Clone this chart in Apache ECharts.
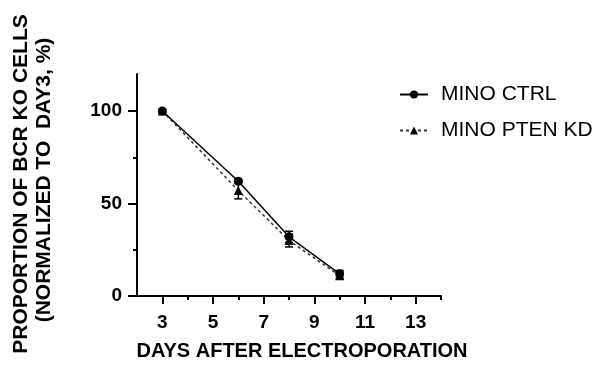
<!DOCTYPE html>
<html>
<head>
<meta charset="utf-8">
<script src="https://cdn.jsdelivr.net/npm/echarts@6/dist/echarts.min.js"></script>
<style>html,body{margin:0;padding:0;background:#fff;}#c{width:600px;height:370px;}</style>
</head>
<body>
<div id="c"></div>
<script>
var days = [3, 6, 8, 10];
var ctrlMean = [100, 62, 32, 12];
var ctrlErr = [0.8, 1.2, 3, 1.8];
var ptenMean = [100, 57, 30, 11];
var ptenErr = [0.8, 4.5, 3.5, 1.8];
var xMajorTicks = [3, 5, 7, 9, 11, 13];
var xMinorTicks = [4, 6, 8, 10, 12, 14];
var yMajorTicks = [0, 50, 100];
var yMinorTicks = [25, 75];
var seriesNames = ['MINO CTRL', 'MINO PTEN KD'];

var FONT = '"Liberation Sans", Arial, Helvetica, sans-serif';
var chart = echarts.init(document.getElementById('c'));

function pairs(xs, ys) { return xs.map(function (x, i) { return [x, ys[i]]; }); }
function errData(xs, m, e) { return xs.map(function (x, i) { return [x, m[i] - e[i], m[i] + e[i]]; }); }
function errRender(params, api) {
  var x = api.value(0);
  var lo = api.coord([x, api.value(1)]);
  var hi = api.coord([x, api.value(2)]);
  var w = 4;
  var st = { stroke: '#000', lineWidth: 1.5 };
  return { type: 'group', children: [
    { type: 'line', shape: { x1: lo[0], y1: lo[1], x2: hi[0], y2: hi[1] }, style: st },
    { type: 'line', shape: { x1: lo[0] - w, y1: lo[1], x2: lo[0] + w, y2: lo[1] }, style: st },
    { type: 'line', shape: { x1: hi[0] - w, y1: hi[1], x2: hi[0] + w, y2: hi[1] }, style: st }
  ]};
}

chart.setOption({
  animation: false,
  backgroundColor: '#fff',
  grid: { left: 137, right: 159, top: 74, bottom: 74 },
  xAxis: [
    { type: 'value', min: 2, max: 14, splitLine: { show: false },
      axisLine: { show: true, lineStyle: { color: '#000', width: 2 } },
      axisTick: { show: true, customValues: xMajorTicks, length: 8, lineStyle: { color: '#000', width: 2 } },
      axisLabel: { customValues: xMajorTicks, margin: 17, color: '#000', fontSize: 19, fontWeight: 'bold', fontFamily: FONT } },
    { type: 'value', min: 2, max: 14, position: 'bottom', splitLine: { show: false },
      axisLine: { show: false },
      axisTick: { show: true, customValues: xMinorTicks, length: 4, lineStyle: { color: '#000', width: 2 } },
      axisLabel: { show: false } }
  ],
  yAxis: [
    { type: 'value', min: 0, max: 120, splitLine: { show: false },
      axisLine: { show: true, lineStyle: { color: '#000', width: 2 } },
      axisTick: { show: true, customValues: yMajorTicks, length: 9, lineStyle: { color: '#000', width: 2 } },
      axisLabel: { customValues: yMajorTicks, margin: 15, color: '#000', fontSize: 19, fontWeight: 'bold', fontFamily: FONT } },
    { type: 'value', min: 0, max: 120, position: 'left', splitLine: { show: false },
      axisLine: { show: false },
      axisTick: { show: true, customValues: yMinorTicks, length: 4, lineStyle: { color: '#000', width: 2 } },
      axisLabel: { show: false } }
  ],
  legend: {
    orient: 'vertical', left: 394, top: 79, itemGap: 15, itemWidth: 28, itemHeight: 10,
    textStyle: { color: '#000', fontSize: 21, fontFamily: FONT, padding: [0, 0, 0, 8] },
    data: seriesNames
  },
  series: [
    { name: seriesNames[0], type: 'line', data: pairs(days, ctrlMean), symbol: 'circle', symbolSize: 9,
      itemStyle: { color: '#000' }, lineStyle: { color: '#000', width: 1.5 }, z: 3 },
    { name: seriesNames[1], type: 'line', data: pairs(days, ptenMean), symbol: 'triangle', symbolSize: 9,
      itemStyle: { color: '#000' }, lineStyle: { color: '#333', width: 1.5, type: [3, 3] }, z: 2 },
    { type: 'custom', data: errData(days, ctrlMean, ctrlErr), renderItem: errRender, z: 4 },
    { type: 'custom', data: errData(days, ptenMean, ptenErr), renderItem: errRender, z: 4 }
  ],
  graphic: [
    { type: 'text', x: 21, y: 184, rotation: Math.PI / 2,
      style: { text: 'PROPORTION OF BCR KO CELLS', fill: '#000', font: 'bold 21px ' + FONT, align: 'center', verticalAlign: 'middle' } },
    { type: 'text', x: 44, y: 180, rotation: Math.PI / 2,
      style: { text: '(NORMALIZED TO  DAY3, %)', fill: '#000', font: 'bold 21px ' + FONT, align: 'center', verticalAlign: 'middle' } },
    { type: 'text', x: 302, y: 351,
      style: { text: 'DAYS AFTER ELECTROPORATION', fill: '#000', font: 'bold 20px ' + FONT, align: 'center', verticalAlign: 'middle' } }
  ]
});
</script>
</body>
</html>
